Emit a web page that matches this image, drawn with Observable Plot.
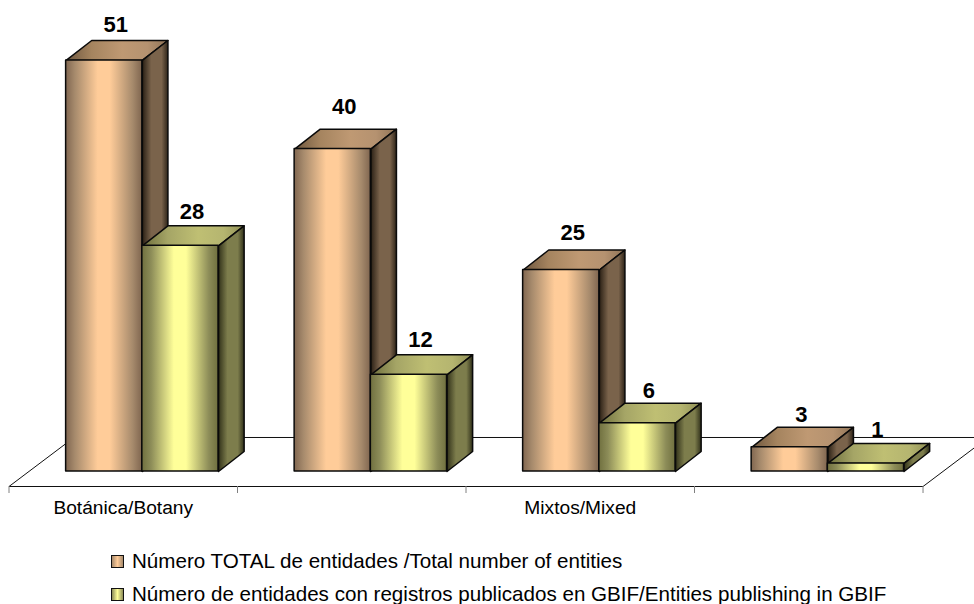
<!DOCTYPE html>
<html>
<head>
<meta charset="utf-8">
<script src="https://cdn.jsdelivr.net/npm/d3@7"></script>
<script src="https://cdn.jsdelivr.net/npm/@observablehq/plot@0.6"></script>
<style>
html,body{margin:0;padding:0;background:#fff;overflow:hidden}
#legend{margin-top:11px;padding-left:111px;font:20.6px "Liberation Sans",Arial,sans-serif;color:#000}
.row{height:20px;line-height:20px;display:flex;align-items:center;white-space:nowrap}
.row+.row{margin-top:13px}
.sw{width:11px;height:11px;border:1px solid #111;margin-right:8px;flex:none}
</style>
</head>
<body>
<div id="chart"></div>
<div id="legend"></div>
<script>
const categories = ["Botánica/Botany", "", "Mixtos/Mixed", ""];
const totalEntities = [51, 40, 25, 3];
const publishingEntities = [28, 12, 6, 1];
const seriesNames = [
  "Número TOTAL de entidades /Total number of entities",
  "Número de entidades con registros publicados en GBIF/Entities publishing in GBIF"
];

// Layout in data units (x: category slots, y: entity counts)
const barOffset = 0.25, barWidth = 0.3335;
const depthX = 0.112, depthY = 2.48;
const floorFront = -1.86, floorBack = 4.22, floorDepth = 0.2845, tickLength = 0.87;
// Pixel gaps between each value label and its bar top
const labelGaps = [[-16, -22, -17, -12], [-14, -15, -12, -14]];

const series = [
  {values: totalEntities, key: "a"},
  {values: publishingEntities, key: "b"}
];
const marks = [];

// Floor
const floorLine = [
  [floorDepth, floorBack], [0, floorFront], [4, floorFront], [4 + floorDepth, floorBack]
];
marks.push(Plot.line(floorLine, {x: d => d[0], y: d => d[1], stroke: "#111", strokeWidth: 1, clip: "frame"}));
marks.push(Plot.line([[floorDepth, floorBack], [4 + floorDepth, floorBack]], {x: d => d[0], y: d => d[1], stroke: "#111", strokeWidth: 1, clip: "frame"}));
marks.push(Plot.ruleX(d3.range(5), {x: d => d, y1: floorFront, y2: floorFront - tickLength, stroke: "#808080", strokeWidth: 1}));

const edge = {stroke: "#0a0a0a", strokeWidth: 1.5, strokeLinejoin: "round"};
const xy = {x: d => d[0], y: d => d[1]};

categories.forEach((_, c) => {
  series.forEach((s, j) => {
    const v = s.values[c];
    const x0 = c + barOffset + j * barWidth, x1 = x0 + barWidth;
    marks.push(Plot.line(
      [[x0, v], [x1, v], [x1 + depthX, v + depthY], [x0 + depthX, v + depthY], [x0, v]],
      {...xy, ...edge, fill: `url(#top-${s.key})`}));
    marks.push(Plot.line(
      [[x1, 0], [x1 + depthX, depthY], [x1 + depthX, v + depthY], [x1, v], [x1, 0]],
      {...xy, ...edge, fill: `url(#side-${s.key})`}));
    marks.push(Plot.rect([0], {x1: x0, x2: x1, y1: 0, y2: v, ...edge, fill: `url(#front-${s.key})`}));
  });
});

// Value labels
series.forEach((s, j) => {
  s.values.forEach((v, i) => {
    marks.push(Plot.text([v], {
      x: () => i + barOffset + (j + 0.5) * barWidth + depthX * 0.45,
      y: d => d + depthY,
      text: d => String(d),
      dy: labelGaps[j][i],
      fontSize: 22,
      fontWeight: "bold",
      fontFamily: "Liberation Sans, Arial, sans-serif",
      fill: "#000"
    }));
  });
});

// Category labels
marks.push(Plot.text(categories, {
  x: (d, i) => i + 0.5,
  y: floorFront,
  text: d => d,
  dy: 21,
  fontSize: 19.2,
  fontFamily: "Liberation Sans, Arial, sans-serif",
  fill: "#000"
}));

const plot = Plot.plot({
  width: 974,
  height: 540,
  margin: 0,
  x: {type: "linear", domain: [-0.0372, 4.2253], axis: null},
  y: {type: "linear", domain: [-8.56, 58.44], axis: null},
  marks
});

// Gradients
const defs = d3.select(plot).insert("defs", ":first-child");
function grad(id, stops) {
  const g = defs.append("linearGradient").attr("id", id).attr("x1", 0).attr("x2", 1).attr("y1", 0).attr("y2", 0);
  stops.forEach(([o, c]) => g.append("stop").attr("offset", o).attr("stop-color", c));
}
const frontStops = (e, m, h) => [[0, e], [0.12, m], [0.42, h], [0.58, h], [0.88, m], [1, e]];
grad("front-a", frontStops("#806650", "#a68a6c", "#ffcc99"));
grad("front-b", frontStops("#70703f", "#8c8c58", "#ffff99"));
grad("top-a", [[0, "#6e573f"], [0.25, "#a5845f"], [0.55, "#bf9973"], [0.8, "#b59270"], [1, "#8f7356"]]);
grad("top-b", [[0, "#6d6d3c"], [0.25, "#a5a566"], [0.55, "#bfbf73"], [0.8, "#b5b570"], [1, "#8f8f55"]]);
grad("side-a", [[0, "#2a2015"], [0.35, "#7a634b"], [0.75, "#7a634b"], [1, "#2e2418"]]);
grad("side-b", [[0, "#32321a"], [0.35, "#7d7d4c"], [0.75, "#7d7d4c"], [1, "#30301a"]]);

document.getElementById("chart").appendChild(plot);

const legend = d3.select("#legend");
const swatches = [
  "linear-gradient(90deg,#a68a6c,#ffcc99 50%,#a68a6c)",
  "linear-gradient(90deg,#8c8c58,#ffff99 50%,#8c8c58)"
];
seriesNames.forEach((n, i) => {
  const r = legend.append("div").attr("class", "row");
  r.append("span").attr("class", "sw").style("background", swatches[i]);
  r.append("span").text(n);
});
</script>
</body>
</html>
